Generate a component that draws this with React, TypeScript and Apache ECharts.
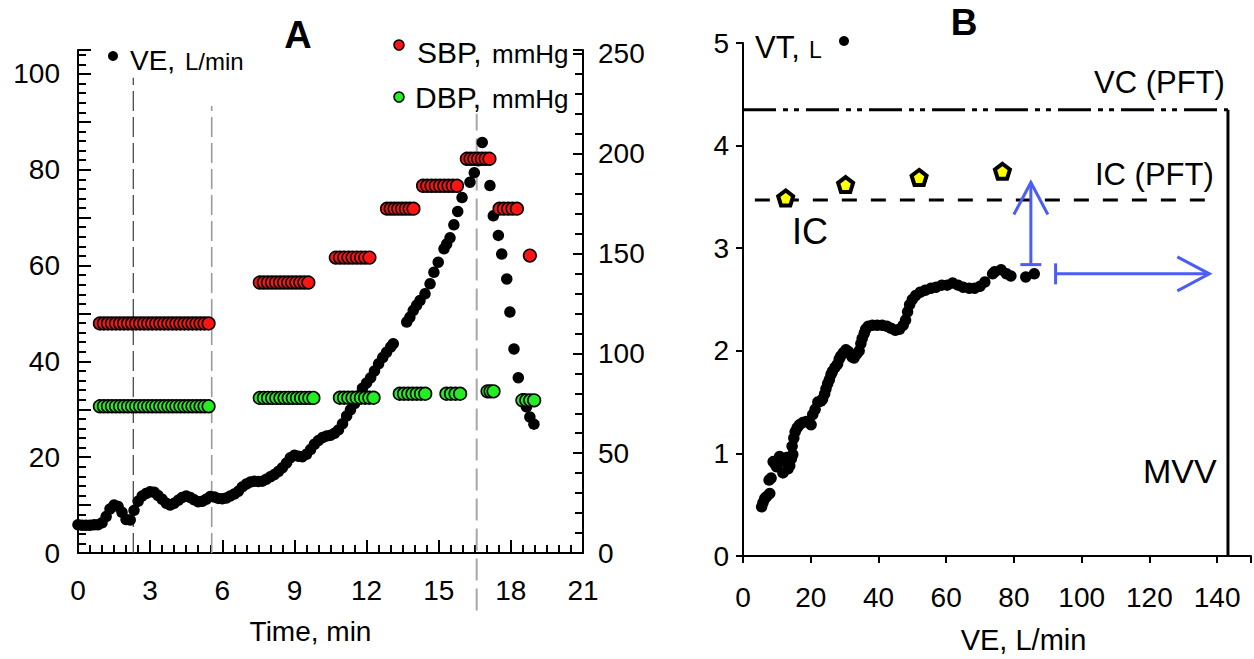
import React, { useEffect, useRef } from "react";
import * as echarts from "echarts";

const FONT = '"Liberation Sans", Arial, Helvetica, sans-serif';

// ---------- Panel A: VE (L/min) over time (min) ----------
const veTime = [
  0, 0.17, 0.33, 0.5, 0.67, 0.83, 1.0, 1.17, 1.33, 1.5, 1.67, 1.83, 2.0, 2.17, 2.33, 2.5, 2.67, 2.83,
  3.0, 3.17, 3.33, 3.5, 3.67, 3.83, 4.0, 4.17, 4.33, 4.5, 4.67, 4.83, 5.0, 5.17, 5.33, 5.5, 5.67, 5.83,
  6.0, 6.17, 6.33, 6.5, 6.67, 6.83, 7.0, 7.17, 7.33, 7.5, 7.67, 7.83, 8.0, 8.17, 8.33, 8.5, 8.67, 8.83,
  9.0, 9.17, 9.33, 9.5, 9.67, 9.83, 10.0, 10.17, 10.33, 10.5, 10.67, 10.83, 11.0, 11.17, 11.33, 11.5,
  11.67, 11.83, 12.0, 12.17, 12.33, 12.5, 12.67, 12.83, 13.0, 13.11, 13.67, 13.8, 13.94, 14.08, 14.22,
  14.43, 14.64, 14.8, 14.98, 15.22, 15.33, 15.47, 15.63, 15.79, 15.97, 16.3, 16.48, 16.65, 16.81, 17.13,
  17.27, 17.48, 17.62, 17.83, 17.96, 18.13, 18.31, 18.52, 18.65, 18.79, 18.96,
];
const veValue = [
  5.9, 5.8, 5.8, 5.8, 5.9, 5.9, 6.3, 7.6, 9.2, 10.0, 9.7, 8.5, 7.0, 6.9, 8.9, 10.8, 11.9, 12.4,
  12.8, 12.7, 12.0, 11.2, 10.4, 10.0, 10.4, 11.0, 11.6, 11.9, 11.6, 11.1, 10.7, 10.8, 11.2, 11.8, 11.7, 11.4,
  11.3, 11.5, 11.9, 12.3, 12.9, 13.8, 14.4, 14.8, 15.0, 14.9, 15.0, 15.4, 15.9, 16.4, 17.0, 17.8, 18.8, 19.9,
  20.4, 20.2, 20.1, 20.6, 21.6, 22.7, 23.5, 24.1, 24.4, 24.6, 25.0, 25.7, 27.0, 28.6, 29.9, 31.2,
  32.8, 34.4, 35.5, 36.6, 38.0, 39.5, 40.8, 41.9, 43.0, 43.7, 48.2, 49.2, 50.6, 51.7, 52.7,
  54.1, 56.2, 58.6, 60.7, 63.5, 64.5, 65.8, 68.5, 71.3, 74.2, 77.4, 79.4, 81.9, 85.7, 76.7,
  70.4, 66.3, 62.4, 57.2, 50.3, 42.6, 36.6, 32.2, 30.5, 28.4, 26.9,
];

// Blood pressure readings (mmHg), each held over a time interval (min)
const sbpStart = [0.91, 7.56, 10.72, 12.85, 14.35, 16.17, 17.53, 18.79];
const sbpEnd = [5.43, 9.58, 12.12, 13.95, 15.76, 17.11, 18.25, 18.79];
const sbpValue = [115, 135.5, 148, 172.5, 184, 197.5, 172.5, 149];
const dbpStart = [0.91, 7.56, 10.89, 13.38, 15.32, 17.03, 18.48];
const dbpEnd = [5.43, 9.79, 12.29, 14.44, 15.89, 17.28, 18.97];
const dbpValue = [73.5, 77.7, 77.8, 79.8, 79.8, 81, 76.5];

// Vertical dashed markers (time, top, bottom on VE scale)
const markerTime = [2.3, 5.56, 16.58];
const markerTop = [99.2, 93.3, 91.7];
const markerBottom = [0, 0, -12];

// ---------- Panel B: VT (L) vs VE (L/min) ----------
const vtVE = [
  5.5, 5.9, 6.4, 7.0, 7.9, 7.7, 8.3, 8.9, 9.4, 9.9, 10.3, 10.8, 11.4, 11.8, 12.3, 12.9, 13.3, 13.8, 14.3,
  14.7, 14.5, 15.0, 15.4, 16.0, 16.7, 17.6, 18.7, 19.6, 20.1, 20.6, 21.3, 22.1, 23.0, 23.5, 24.1, 24.5,
  25.0, 25.5, 26.0, 26.4, 27.2, 27.9, 28.4, 28.9, 29.6, 30.4, 31.2, 32.2, 32.8, 33.6, 34.3, 34.8, 35.2,
  35.8, 36.2, 37.0, 38.2, 39.6, 41.1, 42.5, 43.7, 45.0, 46.2, 47.3, 48.0, 48.6, 49.2, 50.0, 51.0, 52.3,
  53.8, 55.5, 57.0, 58.7, 60.3, 61.9, 63.5, 65.0, 66.8, 68.4, 70.0, 71.4, 73.7, 74.3, 76.2, 77.8, 79.1,
  83.5, 86.0,
];
const vtValue = [
  0.48, 0.52, 0.56, 0.58, 0.61, 0.74, 0.76, 0.92, 0.9, 0.87, 0.93, 0.97, 0.95, 0.81, 0.92, 0.96, 0.85, 0.88, 0.95,
  0.99, 1.07, 1.15, 1.21, 1.25, 1.28, 1.3, 1.31, 1.3, 1.28, 1.38, 1.43, 1.5, 1.51, 1.53, 1.58, 1.63,
  1.68, 1.72, 1.77, 1.8, 1.84, 1.87, 1.92, 1.95, 1.98, 2.01, 1.99, 1.94, 1.93, 1.97, 2.0, 2.07, 2.12,
  2.17, 2.21, 2.24, 2.25, 2.25, 2.25, 2.24, 2.22, 2.2, 2.21, 2.25, 2.3, 2.38, 2.45, 2.5, 2.54, 2.57,
  2.59, 2.61, 2.62, 2.64, 2.64, 2.66, 2.64, 2.62, 2.61, 2.61, 2.63, 2.67, 2.75, 2.77, 2.79, 2.75, 2.73,
  2.72, 2.75,
];
const icVE = [12.6, 30.3, 52.0, 76.6];
const icValue = [3.49, 3.62, 3.69, 3.75];
const vcPFT = 4.35;
const icPFT = 3.47;
const icPFTFrom = 3.5;
const icPFTTo = 140;
const mvv = 143.2;
const arrowFromX = [85, 92.3];
const arrowFromY = [2.84, 2.75];
const arrowToX = [85, 137.7];
const arrowToY = [3.64, 2.75];

// ---------- styles ----------
const BLUE = "#4a5df5";
const RED = "#ff1414";
const GREEN = "#22ee22";
const markerStyles = [
  { color: "#4a4a4a", width: 1.3, type: [20, 6] },
  { color: "#9a9a9a", width: 1.6, type: [20, 6] },
  { color: "#a8a8a8", width: 2, type: [22, 8] },
];

const chainRender = (fill: string) => (_params: any, api: any) => {
  const y = api.value(2);
  const a = api.coord([api.value(0), y]);
  const b = api.coord([api.value(1), y]);
  const step = 4;
  const n = Math.max(1, Math.round((b[0] - a[0]) / step) + 1);
  const children: any[] = [];
  for (let i = 0; i < n; i++) {
    const cx = n === 1 ? a[0] : a[0] + ((b[0] - a[0]) * i) / (n - 1);
    children.push({
      type: "circle",
      shape: { cx, cy: a[1], r: 6.3 },
      style: { fill, stroke: "#000", lineWidth: 1.6 },
    });
  }
  return { type: "group", children };
};

const arrowRender = (_params: any, api: any) => {
  const p1 = api.coord([api.value(0), api.value(1)]);
  const p2 = api.coord([api.value(2), api.value(3)]);
  const dx = p2[0] - p1[0];
  const dy = p2[1] - p1[1];
  const L = Math.hypot(dx, dy) || 1;
  const ux = dx / L, uy = dy / L;
  const nx = -uy, ny = ux;
  const cap = 10.5, back = 32, half = 17;
  const style = { stroke: BLUE, lineWidth: 3, fill: null };
  return {
    type: "group",
    children: [
      { type: "line", shape: { x1: p1[0], y1: p1[1], x2: p2[0], y2: p2[1] }, style },
      {
        type: "line",
        shape: { x1: p1[0] + nx * cap, y1: p1[1] + ny * cap, x2: p1[0] - nx * cap, y2: p1[1] - ny * cap },
        style,
      },
      {
        type: "polyline",
        shape: {
          points: [
            [p2[0] - ux * back + nx * half, p2[1] - uy * back + ny * half],
            [p2[0], p2[1]],
            [p2[0] - ux * back - nx * half, p2[1] - uy * back - ny * half],
          ],
        },
        style,
      },
    ],
  };
};

const axisLineStyle = { color: "#000", width: 2 };
const tickStyle = { color: "#000", width: 2 };

// text placed by its baseline
function txt(text: string, x: number, baseline: number, size: number, opts: any = {}) {
  return {
    type: "text",
    x,
    y: baseline - 0.3465 * size,
    z: 10,
    style: {
      text,
      fontSize: size,
      fontFamily: FONT,
      fontWeight: opts.bold ? "bold" : "normal",
      fill: "#000",
      align: opts.align || "left",
      verticalAlign: "middle",
    },
  };
}

function dot(cx: number, cy: number, fill: string, border = false) {
  return {
    type: "circle",
    z: 10,
    shape: { cx, cy, r: 5 },
    style: { fill, stroke: border ? "#000" : null, lineWidth: border ? 1.6 : 0 },
  };
}

export default function App() {
  const ref = useRef<HTMLDivElement>(null);
  useEffect(() => {
    if (!ref.current) return;
    const chart = echarts.init(ref.current, undefined, { renderer: "svg" });

    const veData = veTime.map((t, i) => [t, veValue[i]]);
    const sbpData = sbpStart.map((s, i) => [s, sbpEnd[i], sbpValue[i]]);
    const dbpData = dbpStart.map((s, i) => [s, dbpEnd[i], dbpValue[i]]);
    const vtData = vtVE.map((v, i) => [v, vtValue[i]]);
    const icData = icVE.map((v, i) => [v, icValue[i]]);
    const arrowData = arrowFromX.map((x, i) => [x, arrowFromY[i], arrowToX[i], arrowToY[i]]);

    const markerSeries = markerTime.map((t, i) => ({
      type: "line",
      xAxisIndex: 0,
      yAxisIndex: 0,
      data: [
        [t, markerBottom[i]],
        [t, markerTop[i]],
      ],
      symbol: "none",
      clip: false,
      silent: true,
      z: 1,
      lineStyle: markerStyles[i],
    }));

    const option: any = {
      animation: false,
      textStyle: { fontFamily: FONT },
      grid: [
        { left: 78, top: 50, width: 505, height: 503 },
        { left: 743, top: 43, width: 511, height: 513 },
      ],
      xAxis: [
        {
          gridIndex: 0,
          type: "value",
          min: 0,
          max: 21,
          interval: 3,
          name: "Time, min",
          nameLocation: "middle",
          nameGap: 64,
          nameTextStyle: { fontSize: 28, color: "#000", fontFamily: FONT, padding: [0, 40, 0, 0] },
          axisLine: { show: true, onZero: false, lineStyle: axisLineStyle },
          axisTick: { show: true, inside: true, length: 13, lineStyle: tickStyle },
          minorTick: { show: true, splitNumber: 6, length: 8, lineStyle: tickStyle },
          splitLine: { show: false },
          minorSplitLine: { show: false },
          axisLabel: { fontSize: 28, color: "#000", margin: 23, fontFamily: FONT },
        },
        {
          gridIndex: 1,
          type: "value",
          min: 0,
          max: 150,
          interval: 20,
          name: "VE, L/min",
          nameLocation: "middle",
          nameGap: 69,
          nameTextStyle: { fontSize: 29, color: "#000", fontFamily: FONT, padding: [0, 0, 0, 53] },
          axisLine: { show: true, onZero: false, lineStyle: axisLineStyle },
          axisTick: { show: true, inside: false, length: 7, lineStyle: tickStyle },
          splitLine: { show: false },
          axisLabel: {
            fontSize: 28,
            color: "#000",
            margin: 27,
            fontFamily: FONT,
            formatter: (v: number) => (v <= 140 ? String(v) : ""),
          },
        },
      ],
      yAxis: [
        {
          gridIndex: 0,
          type: "value",
          position: "left",
          min: 0,
          max: 105,
          interval: 10,
          axisLine: { show: true, onZero: false, lineStyle: axisLineStyle },
          axisTick: { show: true, inside: true, length: 13, lineStyle: tickStyle },
          minorTick: { show: true, splitNumber: 5, length: 8, lineStyle: tickStyle },
          splitLine: { show: false },
          minorSplitLine: { show: false },
          axisLabel: {
            fontSize: 28,
            color: "#000",
            margin: 18,
            fontFamily: FONT,
            formatter: (v: number) => (v % 20 === 0 && v <= 100 ? String(v) : ""),
          },
        },
        {
          gridIndex: 0,
          type: "value",
          position: "right",
          min: 0,
          max: 252,
          interval: 50,
          axisLine: { show: true, onZero: false, lineStyle: axisLineStyle },
          axisTick: { show: true, inside: true, length: 10, lineStyle: tickStyle },
          minorTick: { show: true, splitNumber: 5, length: 8, lineStyle: tickStyle },
          splitLine: { show: false },
          minorSplitLine: { show: false },
          axisLabel: {
            fontSize: 28,
            color: "#000",
            margin: 15,
            fontFamily: FONT,
            formatter: (v: number) => (v % 50 === 0 ? String(v) : ""),
          },
        },
        {
          gridIndex: 1,
          type: "value",
          position: "left",
          min: 0,
          max: 5,
          interval: 1,
          axisLine: { show: true, onZero: false, lineStyle: axisLineStyle },
          axisTick: { show: true, inside: false, length: 7, lineStyle: tickStyle },
          splitLine: { show: false },
          axisLabel: { fontSize: 28, color: "#000", margin: 14, fontFamily: FONT },
        },
      ],
      series: [
        ...markerSeries,
        {
          name: "VE",
          type: "scatter",
          xAxisIndex: 0,
          yAxisIndex: 0,
          data: veData,
          symbol: "circle",
          symbolSize: 11.5,
          itemStyle: { color: "#000", opacity: 1 },
          z: 2,
        },
        {
          name: "SBP",
          type: "custom",
          xAxisIndex: 0,
          yAxisIndex: 1,
          data: sbpData,
          encode: { x: [0, 1], y: 2 },
          renderItem: chainRender(RED),
          clip: false,
          z: 3,
        },
        {
          name: "DBP",
          type: "custom",
          xAxisIndex: 0,
          yAxisIndex: 1,
          data: dbpData,
          encode: { x: [0, 1], y: 2 },
          renderItem: chainRender(GREEN),
          clip: false,
          z: 3,
        },
        {
          name: "VC (PFT)",
          type: "line",
          xAxisIndex: 1,
          yAxisIndex: 2,
          data: [
            [0, vcPFT],
            [mvv, vcPFT],
          ],
          symbol: "none",
          silent: true,
          lineStyle: { color: "#000", width: 3, type: [33, 7, 5, 6, 5, 7] },
          z: 1,
        },
        {
          name: "IC (PFT)",
          type: "line",
          xAxisIndex: 1,
          yAxisIndex: 2,
          data: [
            [icPFTFrom, icPFT],
            [icPFTTo, icPFT],
          ],
          symbol: "none",
          silent: true,
          lineStyle: { color: "#000", width: 3, type: [15, 14] },
          z: 1,
        },
        {
          name: "MVV",
          type: "line",
          xAxisIndex: 1,
          yAxisIndex: 2,
          data: [
            [mvv, 0],
            [mvv, vcPFT],
          ],
          symbol: "none",
          silent: true,
          lineStyle: { color: "#000", width: 3 },
          z: 1,
        },
        {
          name: "arrows",
          type: "custom",
          xAxisIndex: 1,
          yAxisIndex: 2,
          data: arrowData,
          encode: { x: [0, 2], y: [1, 3] },
          renderItem: arrowRender,
          clip: false,
          silent: true,
          z: 2,
        },
        {
          name: "VT",
          type: "scatter",
          xAxisIndex: 1,
          yAxisIndex: 2,
          data: vtData,
          symbol: "circle",
          symbolSize: 11.5,
          itemStyle: { color: "#000", opacity: 1 },
          z: 3,
        },
        {
          name: "IC",
          type: "scatter",
          xAxisIndex: 1,
          yAxisIndex: 2,
          data: icData,
          symbol: "path://M0,-10 L9.51,-3.09 L5.88,8.09 L-5.88,8.09 L-9.51,-3.09 Z",
          symbolSize: 15,
          itemStyle: { color: "#ffff00", borderColor: "#000", borderWidth: 4, opacity: 1 },
          z: 4,
        },
      ],
      graphic: [
        txt("A", 298, 48, 38, { bold: true, align: "center" }),
        txt("B", 964, 35, 37, { bold: true, align: "center" }),
        dot(113, 56, "#000"),
        txt("VE,", 130, 70, 28),
        txt("L/min", 185, 70, 24),
        dot(399, 45, RED, true),
        txt("SBP,", 417, 63.3, 30),
        txt("mmHg", 492, 63.3, 26),
        dot(399, 97, GREEN, true),
        txt("DBP,", 415, 108.3, 30),
        txt("mmHg", 492, 108.3, 26),
        txt("VT,", 755, 58.3, 31),
        txt("L", 809, 58.3, 23),
        dot(844, 41, "#000"),
        txt("VC (PFT)", 1094, 93, 31),
        txt("IC (PFT)", 1095, 185, 31),
        txt("IC", 792, 244, 36),
        txt("MVV", 1143, 483, 34),
      ],
    };

    chart.setOption(option);
    return () => chart.dispose();
  }, []);

  return (
    <div
      ref={ref}
      style={{ position: "fixed", left: 0, top: 0, width: 1254, height: 659, background: "#fff" }}
    />
  );
}
